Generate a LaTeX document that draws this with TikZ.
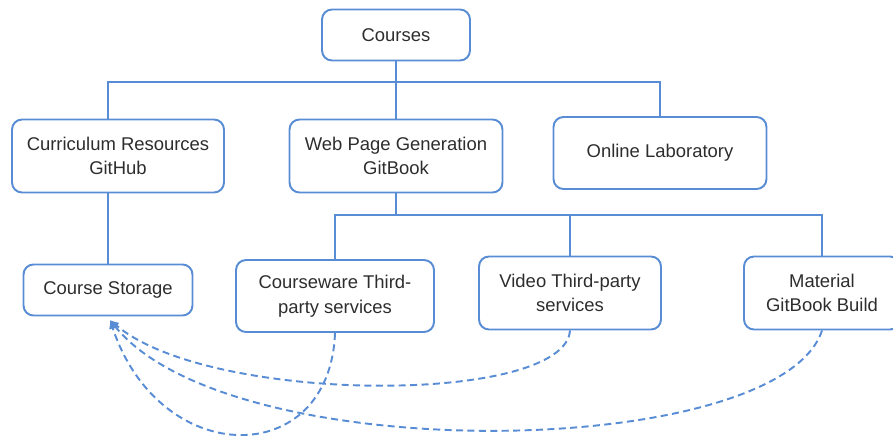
\documentclass[tikz,border=0pt]{standalone}
\usepackage{fontspec}
\setsansfont{Liberation Sans}
\usepackage{tikz}
\usetikzlibrary{positioning, arrows.meta, calc}

\definecolor{lineblue}{RGB}{88,140,212}
\definecolor{textgray}{RGB}{45,45,45}

\begin{document}
\begin{tikzpicture}[x=0.02cm, y=-0.02cm,
    box/.style={draw=lineblue, line width=1.1pt, rectangle, rounded corners=0.2cm, align=center,
        text=textgray, font=\sffamily\fontsize{10.5}{14}\selectfont, inner sep=2pt},
    link/.style={draw=lineblue, line width=1.1pt},
    flow/.style={draw=lineblue, line width=1.1pt, dashed, dash pattern=on 4pt off 2.5pt,
        -{Latex[length=5pt, width=4.5pt]}}]
    \useasboundingbox (0,0) rectangle (893,436);

    % first level
    \node[box, minimum width=2.96cm, minimum height=1.02cm] (courses) at (396,35) {Courses};
    \node[box, minimum width=4.24cm, minimum height=1.46cm] (curric) at (118,156)
        {Curriculum Resources\\GitHub};
    \node[box, minimum width=4.26cm, minimum height=1.46cm] (webgen) at (396,156)
        {Web Page Generation\\GitBook};
    \node[box, minimum width=4.26cm, minimum height=1.44cm] (onlab) at (660,153)
        {Online Laboratory};

    % second level
    \node[box, minimum width=3.38cm, minimum height=1.02cm] (storage) at (108,290) {Course Storage};
    \node[box, minimum width=3.96cm, minimum height=1.44cm] (cware) at (335,296)
        {Courseware Third-\\party services};
    \node[box, minimum width=3.64cm, minimum height=1.46cm] (video) at (570,293)
        {Video Third-party\\services};
    \node[box, minimum width=3.12cm, minimum height=1.46cm] (material) at (822,293)
        {Material\\GitBook Build};

    % tree lines
    \coordinate (bus1) at (396,82);
    \coordinate (bus2) at (396,215);
    \path[link] (courses.south) -- (bus1) -- (webgen.north);
    \path[link] (storage.north |- curric.north) |- (bus1) -| (onlab.north);
    \path[link] (storage.north) -- (storage.north |- curric.south);
    \path[link] (webgen.south) -- (bus2);
    \path[link] (cware.north) |- (bus2) -| (material.north);
    \path[link] (bus2 -| video.north) -- (video.north);

    % storage flows
    \coordinate (tip) at (110,320);
    \path[flow] (cware.south) .. controls (330,470) and (160,470) .. (tip);
    \path[flow] (video.south) .. controls (565,405) and (210,405) .. (tip);
    \path[flow] (material.south) .. controls (780,460) and (230,470) .. (tip);
\end{tikzpicture}
\end{document}
